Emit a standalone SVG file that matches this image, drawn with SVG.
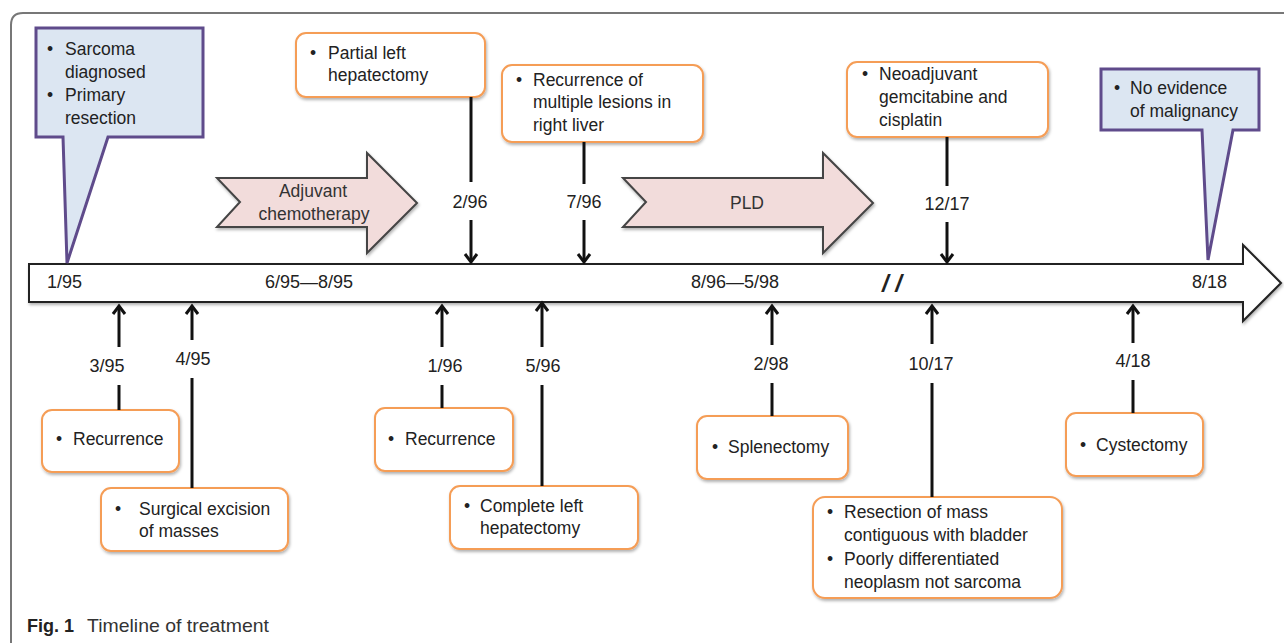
<svg xmlns="http://www.w3.org/2000/svg" width="1284" height="643" viewBox="0 0 1284 643">
<defs>
<filter id="sh" x="-10%" y="-10%" width="130%" height="140%">
<feDropShadow dx="1" dy="2" stdDeviation="1.5" flood-color="#000" flood-opacity="0.3"/>
</filter>
<marker id="ah" markerUnits="userSpaceOnUse" markerWidth="16" markerHeight="16" refX="10" refY="8" orient="auto">
<path d="M2,2 L10,8 L2,14" fill="none" stroke="#111" stroke-width="3"/>
</marker>
<style>
.t{font-family:"Liberation Sans",Arial,sans-serif;font-size:17.5px;fill:#222}
.d{font-family:"Liberation Sans",Arial,sans-serif;font-size:18px;fill:#222}
.c{text-anchor:middle}
.box{fill:#fff;stroke:#F59D56;stroke-width:2}
.call{fill:#DCE6F2;stroke:#5F4B8B;stroke-width:3;stroke-linejoin:miter}
.pha{fill:#F2DCDB;stroke:#444;stroke-width:2}
.ln{stroke:#111;stroke-width:3;fill:none}
.ar{stroke:#111;stroke-width:3;fill:none;marker-end:url(#ah)}
</style>
</defs>
<rect width="1284" height="643" fill="#fff"/>
<path d="M11,643 V25 Q11,13 23,13 H1284" fill="none" stroke="#777" stroke-width="2"/>

<g id="timeline">
<path d="M29,264 H1243 V245 L1281,283 L1243,321 V302 H29 Z" fill="#fff" stroke="#222" stroke-width="2" filter="url(#sh)"/>
<text class="d" x="47" y="288">1/95</text>
<text class="d" x="265" y="288">6/95—8/95</text>
<text class="d" x="691" y="288">8/96—5/98</text>
<text x="882" y="292" style="font-family:'Liberation Sans',Arial,sans-serif;font-size:24px;font-weight:bold;font-style:italic;fill:#222">/ /</text>
<text class="d" x="1192" y="288">8/18</text>
</g>

<g id="adjuvant">
<path class="pha" d="M217,178 H367 V153 L417,203 L367,253 V227 H217 L240,202 Z" filter="url(#sh)"/>
<text class="t c" x="313" y="197" style="fill:#333">Adjuvant</text>
<text class="t c" x="314" y="220" style="fill:#333">chemotherapy</text>
</g>

<g id="pld">
<path class="pha" d="M623,178 H823 V153 L873,203 L823,253 V227 H623 L646,202 Z" filter="url(#sh)"/>
<text class="t c" x="747" y="209" style="fill:#333">PLD</text>
</g>

<g id="sarcoma">
<path class="call" d="M36,28 H203 V137 H108 L67,263 L63,137 H36 Z"/>
<text class="t" x="47" y="55">•</text><text class="t" x="65" y="55">Sarcoma</text>
<text class="t" x="65" y="78">diagnosed</text>
<text class="t" x="47" y="101">•</text><text class="t" x="65" y="101">Primary</text>
<text class="t" x="65" y="124">resection</text>
</g>

<g id="noevidence">
<path class="call" d="M1101,69 H1259 V130 H1233 L1208,260 L1202,130 H1101 Z"/>
<text class="t" x="1114" y="94">•</text><text class="t" x="1130" y="94">No evidence</text>
<text class="t" x="1130" y="117">of malignancy</text>
</g>

<g id="partial">
<rect class="box" x="296" y="33" width="189" height="64" rx="10" filter="url(#sh)"/>
<text class="t" x="310" y="59">•</text><text class="t" x="328" y="59">Partial left</text>
<text class="t" x="328" y="81">hepatectomy</text>
</g>

<g id="multiple">
<rect class="box" x="502" y="65" width="201" height="77" rx="10" filter="url(#sh)"/>
<text class="t" x="516" y="86">•</text><text class="t" x="533" y="86">Recurrence of</text>
<text class="t" x="533" y="108">multiple lesions in</text>
<text class="t" x="533" y="131">right liver</text>
</g>

<g id="neoadjuvant">
<rect class="box" x="847" y="62" width="201" height="75" rx="10" filter="url(#sh)"/>
<text class="t" x="862" y="80">•</text><text class="t" x="879" y="80">Neoadjuvant</text>
<text class="t" x="879" y="103">gemcitabine and</text>
<text class="t" x="879" y="126">cisplatin</text>
</g>

<g id="recurrence1">
<rect class="box" x="42" y="410" width="137" height="62" rx="10" filter="url(#sh)"/>
<text class="t" x="56" y="445">•</text><text class="t" x="73" y="445">Recurrence</text>
</g>

<g id="surgical">
<rect class="box" x="101" y="488" width="187" height="63" rx="10" filter="url(#sh)"/>
<text class="t" x="115" y="515">•</text><text class="t" x="139" y="515">Surgical excision</text>
<text class="t" x="139" y="537">of masses</text>
</g>

<g id="recurrence2">
<rect class="box" x="375" y="408" width="138" height="63" rx="10" filter="url(#sh)"/>
<text class="t" x="388" y="445">•</text><text class="t" x="405" y="445">Recurrence</text>
</g>

<g id="complete">
<rect class="box" x="450" y="486" width="188" height="63" rx="10" filter="url(#sh)"/>
<text class="t" x="464" y="512">•</text><text class="t" x="480" y="512">Complete left</text>
<text class="t" x="480" y="534">hepatectomy</text>
</g>

<g id="splenectomy">
<rect class="box" x="697" y="416" width="151" height="63" rx="10" filter="url(#sh)"/>
<text class="t" x="712" y="453">•</text><text class="t" x="728" y="453">Splenectomy</text>
</g>

<g id="resection">
<rect class="box" x="813" y="497" width="249" height="101" rx="12" filter="url(#sh)"/>
<text class="t" x="827" y="518">•</text><text class="t" x="844" y="518">Resection of mass</text>
<text class="t" x="844" y="541">contiguous with bladder</text>
<text class="t" x="827" y="565">•</text><text class="t" x="844" y="565">Poorly differentiated</text>
<text class="t" x="844" y="588">neoplasm not sarcoma</text>
</g>

<g id="cystectomy">
<rect class="box" x="1066" y="413" width="137" height="63" rx="10" filter="url(#sh)"/>
<text class="t" x="1080" y="451">•</text><text class="t" x="1096" y="451">Cystectomy</text>
</g>

<g id="connectors">
<line class="ln" x1="471" y1="97" x2="471" y2="182"/>
<line class="ar" x1="471" y1="220" x2="471" y2="262"/>
<line class="ln" x1="584" y1="142" x2="584" y2="184"/>
<line class="ar" x1="584" y1="220" x2="584" y2="262"/>
<line class="ln" x1="947" y1="137" x2="947" y2="186"/>
<line class="ar" x1="947" y1="222" x2="947" y2="262"/>

<line class="ar" x1="119" y1="347" x2="119" y2="306"/>
<line class="ln" x1="119" y1="385" x2="119" y2="410"/>
<line class="ar" x1="192" y1="340" x2="192" y2="306"/>
<line class="ln" x1="192" y1="378" x2="192" y2="488"/>
<line class="ar" x1="442" y1="347" x2="442" y2="306"/>
<line class="ln" x1="442" y1="385" x2="442" y2="408"/>
<line class="ar" x1="542" y1="347" x2="542" y2="303"/>
<line class="ln" x1="542" y1="385" x2="542" y2="486"/>
<line class="ar" x1="772" y1="345" x2="772" y2="306"/>
<line class="ln" x1="772" y1="383" x2="772" y2="416"/>
<line class="ar" x1="932" y1="344" x2="932" y2="306"/>
<line class="ln" x1="932" y1="383" x2="932" y2="497"/>
<line class="ar" x1="1133" y1="343" x2="1133" y2="306"/>
<line class="ln" x1="1133" y1="380" x2="1133" y2="413"/>
</g>

<g id="labels">
<text class="d c" x="470" y="208">2/96</text>
<text class="d c" x="584" y="208">7/96</text>
<text class="d c" x="947" y="210">12/17</text>
<text class="d c" x="107" y="372">3/95</text>
<text class="d c" x="193" y="365">4/95</text>
<text class="d c" x="445" y="372">1/96</text>
<text class="d c" x="543" y="372">5/96</text>
<text class="d c" x="771" y="370">2/98</text>
<text class="d c" x="931" y="370">10/17</text>
<text class="d c" x="1133" y="367">4/18</text>
</g>

<g id="caption">
<text x="27" y="632" style="font-family:'Liberation Sans',Arial,sans-serif;font-size:18px;font-weight:bold;fill:#222">Fig. 1</text>
<text x="87" y="632" textLength="182" lengthAdjust="spacingAndGlyphs" style="font-family:'Liberation Sans',Arial,sans-serif;font-size:19px;fill:#333">Timeline of treatment</text>
</g>
</svg>
